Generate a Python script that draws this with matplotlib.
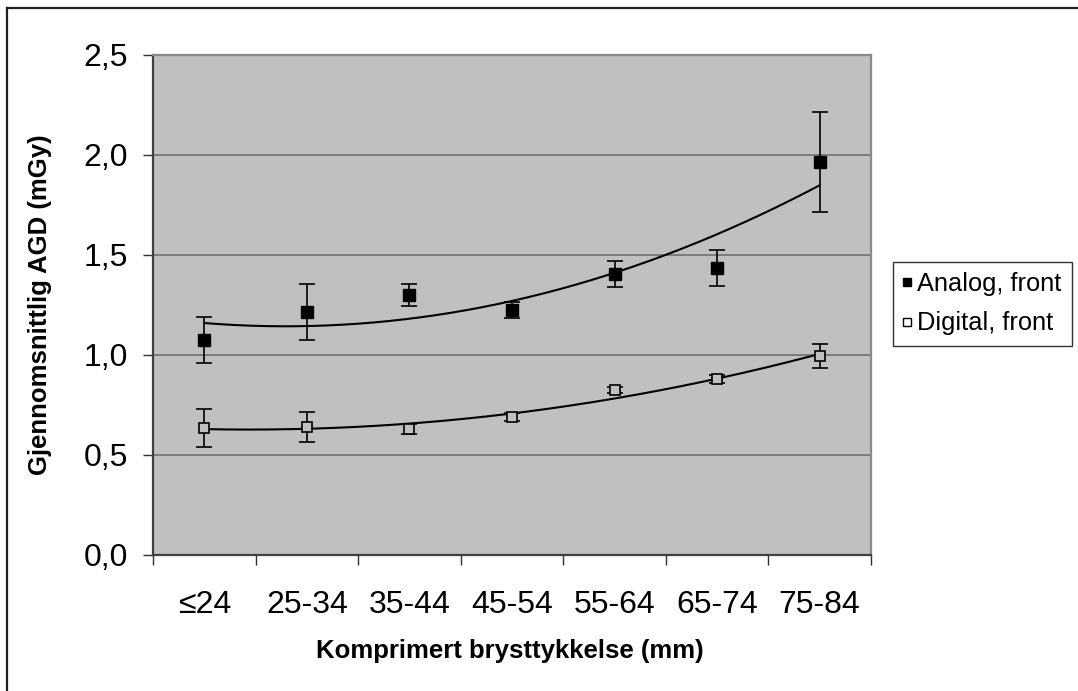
import numpy as np
import matplotlib
matplotlib.use("Agg")
import matplotlib.pyplot as plt
from matplotlib.lines import Line2D
from matplotlib.ticker import FuncFormatter

# breast thickness groups and mean glandular dose (mGy)
categories = ["≤24", "25-34", "35-44", "45-54", "55-64", "65-74", "75-84"]
analog_mean = [1.075, 1.215, 1.30, 1.225, 1.405, 1.435, 1.965]
analog_err = [0.115, 0.14, 0.055, 0.04, 0.065, 0.09, 0.25]
digital_mean = [0.635, 0.64, 0.63, 0.69, 0.825, 0.88, 0.995]
digital_err = [0.095, 0.075, 0.025, 0.02, 0.015, 0.02, 0.06]

plt.rcParams["font.family"] = ["Liberation Sans", "DejaVu Sans"]

W, H = 1078, 691
fig = plt.figure(figsize=(W / 100, H / 100), dpi=100)
ax = fig.add_axes([153 / W, 1 - 555 / H, (871 - 153) / W, (555 - 55) / H])
ax.set_facecolor("#C0C0C0")

x = np.arange(1, len(categories) + 1)

# 2nd order polynomial trendlines, like the spreadsheet ones
xs = np.linspace(1, 7, 200)
for ys in (analog_mean, digital_mean):
    c = np.polyfit(x, ys, 2)
    ax.plot(xs, np.polyval(c, xs), color="black", lw=1.5, zorder=3)

ax.errorbar(x, analog_mean, yerr=analog_err, fmt="s", ms=8.6, mfc="black",
            mec="black", ecolor="black", elinewidth=1.2, capsize=5.8,
            capthick=1.2, zorder=4)
ax.errorbar(x, digital_mean, yerr=digital_err, fmt="s", ms=7.8, mfc="#C0C0C0",
            mec="black", mew=1.2, ecolor="black", elinewidth=1.2, capsize=5.8,
            capthick=1.2, zorder=4)

ax.set_xlim(0.5, 7.5)
ax.set_ylim(0, 2.5)
ax.set_yticks(np.arange(0, 2.51, 0.5))
ax.yaxis.set_major_formatter(FuncFormatter(lambda v, p: f"{v:.1f}".replace(".", ",")))
ax.grid(axis="y", color="#707070", lw=1.2)
ax.set_axisbelow(True)

ax.set_xticks(x)
ax.set_xticklabels(categories)
ax.set_xticks(np.arange(0.5, 7.6, 1), minor=True)
ax.tick_params(axis="x", which="major", length=0, pad=25, labelsize=23)
ax.tick_params(axis="x", which="minor", length=7.2, width=1, color="#303030")
ax.tick_params(axis="y", length=7.2, width=1, color="#303030", pad=11,
               labelsize=23)

for s in ("left", "bottom"):
    ax.spines[s].set_color("#404040")
    ax.spines[s].set_linewidth(1.6)
for s in ("top", "right"):
    ax.spines[s].set_color("#8a8a8a")
    ax.spines[s].set_linewidth(1.6)

fig.text(40 / W, 1 - 305 / H, "Gjennomsnittlig AGD (mGy)", rotation=90,
         ha="center", va="center", fontsize=18.5, fontweight="bold")
fig.text(510 / W, 1 - 651 / H, "Komprimert brysttykkelse (mm)",
         ha="center", va="center", fontsize=18.5, fontweight="bold")

handles = [
    Line2D([], [], ls="none", marker="s", ms=5.5, mfc="black", mec="black"),
    Line2D([], [], ls="none", marker="s", ms=5.5, mfc="white", mec="black", mew=1),
]
leg = fig.legend(handles, ["Analog, front", "Digital, front"],
                 loc="upper left", bbox_to_anchor=(893 / W, 1 - 262 / H),
                 fontsize=18.3, frameon=True, fancybox=False, handlelength=0.3,
                 handletextpad=0.25, borderpad=0.4, labelspacing=0.6,
                 borderaxespad=0)
leg.get_frame().set_edgecolor("black")
leg.get_frame().set_linewidth(1.0)

# outer chart frame
fig.add_artist(Line2D([7 / W, 7 / W], [0, 1 - 8 / H], color="#202020",
                      lw=1.6, transform=fig.transFigure))
fig.add_artist(Line2D([7 / W, 1], [1 - 8 / H, 1 - 8 / H], color="#202020",
                      lw=1.6, transform=fig.transFigure))

fig.savefig("out.png", dpi=100, facecolor="white")
